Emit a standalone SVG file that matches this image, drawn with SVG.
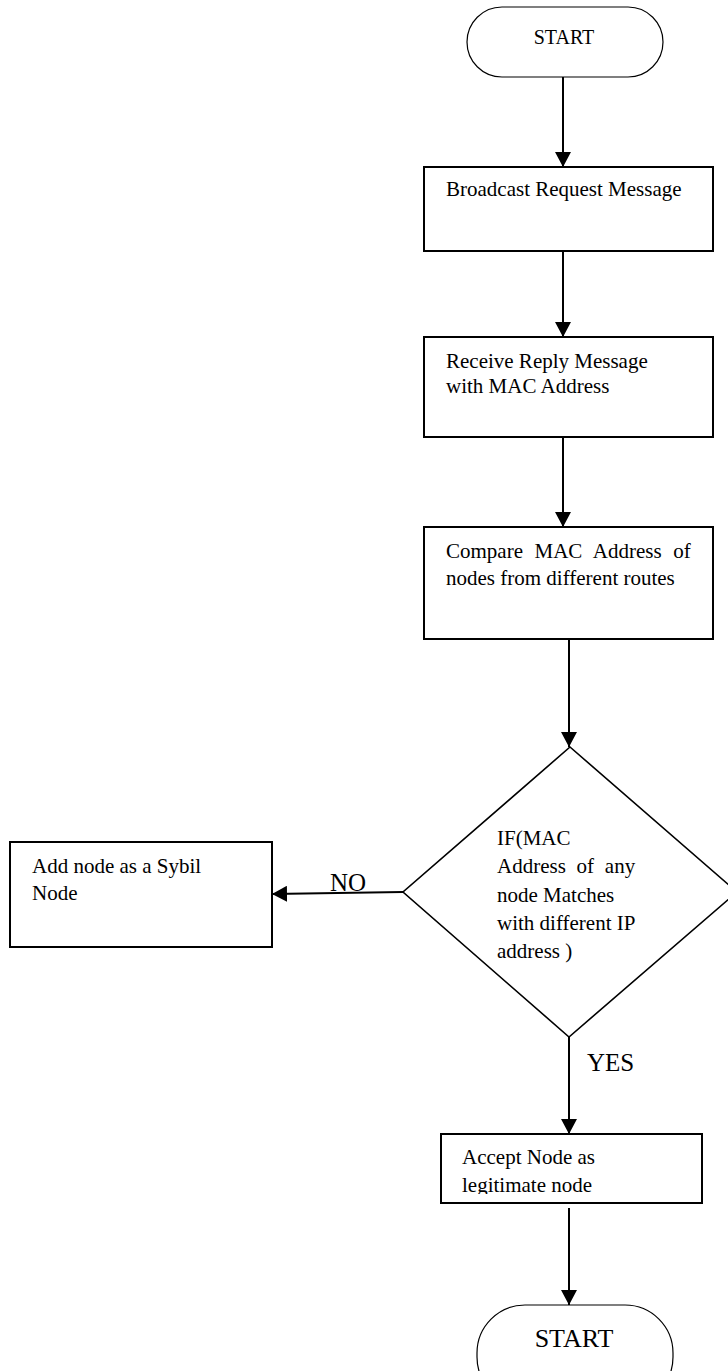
<svg xmlns="http://www.w3.org/2000/svg" width="728" height="1371" viewBox="0 0 728 1371">
<defs>
<style>
.box{fill:#fff;stroke:#000;stroke-width:2}
.term{fill:#fff;stroke:#000;stroke-width:1.2}
.dia{fill:#fff;stroke:#000;stroke-width:1.6}
.t{font-family:"Liberation Serif","Tinos","Times New Roman","DejaVu Serif",serif;font-size:21px;fill:#000}
.big{font-family:"Liberation Serif","Tinos","Times New Roman","DejaVu Serif",serif;font-size:25px;fill:#000}
.st{font-family:"Liberation Serif","Tinos","Times New Roman","DejaVu Serif",serif;fill:#000;text-anchor:middle}
.c{fill:none;stroke:#000;stroke-width:2}
</style>
<marker id="ah" markerUnits="userSpaceOnUse" markerWidth="16" markerHeight="16" viewBox="0 0 16 16" refX="15" refY="8" orient="auto">
<path d="M0,0 L15,8 L0,16 Z" fill="#000"/>
</marker>
<clipPath id="accClip"><rect x="441" y="1134" width="261" height="60"/></clipPath>
</defs>
<rect width="728" height="1371" fill="#fff"/>

<g id="connectors">
<line class="c" x1="563" y1="77" x2="563" y2="167" marker-end="url(#ah)"/>
<line class="c" x1="563" y1="251" x2="563" y2="337" marker-end="url(#ah)"/>
<line class="c" x1="563" y1="437" x2="563" y2="527" marker-end="url(#ah)"/>
<line class="c" x1="569" y1="639" x2="569" y2="747" marker-end="url(#ah)"/>
<line class="c" x1="403" y1="892" x2="272" y2="894" marker-end="url(#ah)"/>
<line class="c" x1="569" y1="1037" x2="569" y2="1134" marker-end="url(#ah)"/>
<line class="c" x1="569" y1="1208" x2="569" y2="1305" marker-end="url(#ah)"/>
<text class="big" x="330" y="891">NO</text>
<text class="big" x="587" y="1071">YES</text>
</g>

<g id="start">
<rect class="term" x="467" y="7" width="196" height="70" rx="35" ry="35"/>
<text class="st" x="564" y="44" font-size="20">START</text>
</g>

<g id="broadcast">
<rect class="box" x="424" y="167" width="289" height="84"/>
<text class="t" x="446" y="196">Broadcast Request Message</text>
</g>

<g id="receive">
<rect class="box" x="424" y="337" width="289" height="100"/>
<text class="t" x="446" y="368">Receive Reply Message</text>
<text class="t" x="446" y="393">with MAC Address</text>
</g>

<g id="compare">
<rect class="box" x="424" y="527" width="289" height="112"/>
<text class="t" x="446" y="558" word-spacing="6.3">Compare MAC Address of</text>
<text class="t" x="446" y="585">nodes from different routes</text>
</g>

<g id="decision">
<polygon class="dia" points="570,747 737,892 569,1037 403,892"/>
<text class="t" x="497" y="845">IF(MAC</text>
<text class="t" x="497" y="873" word-spacing="5.5">Address of any</text>
<text class="t" x="497" y="902">node Matches</text>
<text class="t" x="497" y="930">with different IP</text>
<text class="t" x="497" y="958">address )</text>
</g>

<g id="sybil">
<rect class="box" x="10" y="842" width="262" height="105" stroke-width="1.6"/>
<text class="t" x="32" y="873">Add node as a Sybil</text>
<text class="t" x="32" y="900">Node</text>
</g>

<g id="accept">
<rect class="box" x="441" y="1134" width="261" height="69"/>
<g clip-path="url(#accClip)">
<text class="t" x="462" y="1164">Accept Node as</text>
<text class="t" x="462" y="1192">legitimate node</text>
</g>
</g>

<g id="end">
<rect class="term" x="477" y="1305" width="196" height="100" rx="48" ry="48"/>
<text class="st" x="574" y="1347" font-size="26">START</text>
</g>
</svg>
